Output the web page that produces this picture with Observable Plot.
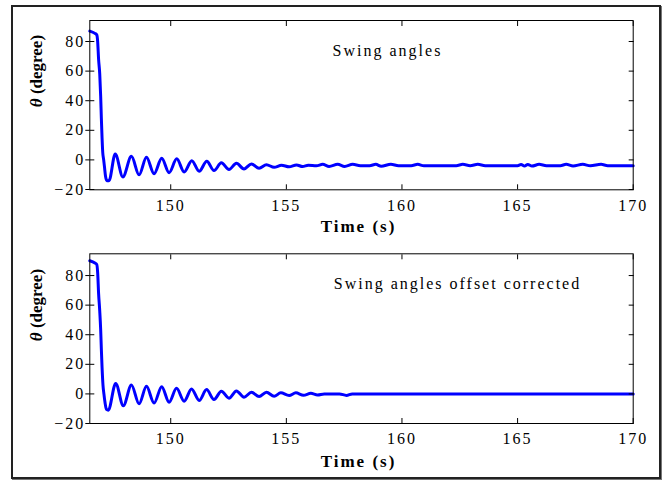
<!DOCTYPE html>
<html><head><meta charset="utf-8">
<script src="https://cdn.jsdelivr.net/npm/d3@7"></script>
<script src="https://cdn.jsdelivr.net/npm/@observablehq/plot@0.6"></script>
<style>
body{margin:0;background:#fff;}
#wrap{position:relative;width:668px;height:481px;overflow:hidden;background:#fff;}
#wrap svg{position:absolute;left:0;}
#wrap svg, #wrap svg text{font-family:"Liberation Serif","Times New Roman",serif !important;}
#border{position:absolute;left:11px;top:5px;width:650px;height:474px;border:2px solid #222;box-sizing:border-box;pointer-events:none;box-shadow:1px 1px 0 #777;z-index:2;}
</style></head><body><div id="wrap"><div id="border"></div></div>
<script>
const xTicks = [150, 155, 160, 165, 170];
const yTicks = [-20, 0, 20, 40, 60, 80];
const xLabel = "Time (s)";
const yLabel = "θ (degree)";
const panelTitles = ["Swing angles", "Swing angles offset corrected"];

const topTime = [146.50,146.72,146.80,146.84,146.88,146.93,146.97,147.00,147.03,147.06,147.10,147.13,147.18,147.24,147.33,147.60,147.93,148.30,148.63,148.95,149.28,149.61,149.93,150.26,150.58,150.91,151.23,151.56,151.87,152.19,152.52,152.84,153.17,153.49,153.82,154.14,154.47,154.79,155.12,155.44,155.70,155.95,156.30,156.57,156.85,157.22,157.52,157.87,158.20,158.60,158.87,159.10,159.52,159.85,160.40,160.68,160.95,162.35,162.63,162.95,163.28,163.60,165.00,165.15,165.30,165.44,165.62,165.93,166.25,166.85,167.10,167.40,167.82,168.15,168.61,168.90,170.00];
const topAngle = [87.0,85.5,84.5,80.0,68.0,58.0,43.0,28.0,15.0,5.0,0.0,-4.0,-11.0,-14.0,-14.0,4.0,-11.5,2.4,-10.1,1.8,-9.4,1.1,-8.6,0.7,-8.1,-0.5,-7.7,-0.9,-7.2,-2.0,-6.5,-2.3,-6.1,-2.7,-5.6,-3.2,-5.0,-3.6,-4.7,-3.4,-4.5,-3.6,-4.0,-3.0,-4.4,-3.0,-4.4,-3.0,-3.9,-3.9,-3.0,-4.3,-2.9,-3.9,-3.9,-3.0,-4.0,-3.9,-3.0,-3.9,-3.0,-3.9,-3.9,-3.1,-4.2,-3.1,-4.2,-3.0,-3.9,-3.9,-3.0,-4.1,-3.0,-4.0,-3.0,-3.9,-3.9];

const bottomTime = [146.50,146.72,146.80,146.84,146.88,146.93,146.97,147.00,147.03,147.07,147.11,147.16,147.22,147.30,147.62,147.95,148.30,148.63,148.95,149.28,149.61,149.93,150.25,150.58,150.90,151.23,151.55,151.87,152.19,152.52,152.84,153.17,153.49,153.82,154.14,154.47,154.76,155.12,155.41,155.74,156.06,156.35,156.64,157.30,157.60,157.85,170.00];
const bottomAngle = [90.0,88.5,87.5,82.0,68.0,56.0,43.5,30.0,18.0,6.0,0.0,-6.0,-10.5,-11.0,7.1,-8.0,6.0,-6.7,5.1,-6.2,4.9,-5.6,3.8,-4.9,3.3,-4.4,2.9,-3.8,1.8,-2.9,2.0,-2.2,1.1,-1.8,1.1,-1.6,0.7,-1.1,0.7,-0.9,0.4,-0.7,0.0,0.0,-1.0,0.0,0.0];

const titlePos = [[157.0, 70.5], [157.05, 71.2]];

function panel({time, angle, title, at, yDomain, height, top, marginTop, marginBottom, xPad, labelDy, yDy}) {
  const data = time.map((t, i) => ({t, v: angle[i]}));
  const svg = Plot.plot({
    width: 668, height,
    marginLeft: 89.3, marginRight: 35.3, marginTop, marginBottom,
    style: {fontSize: "16px", color: "#000", background: "transparent", letterSpacing: "2px", overflow: "visible"},
    x: {domain: [146.5, 170]},
    y: {domain: yDomain},
    marks: [
      Plot.line(data, {x: "t", y: "v", stroke: "#0000ff", strokeWidth: 3, curve: "monotone-x"}),
      Plot.frame({stroke: "#000", strokeWidth: 1}),
      Plot.axisX({anchor: "bottom", ticks: xTicks, tickSize: -5, tickPadding: xPad, label: null}),
      Plot.axisX({anchor: "top", ticks: xTicks, tickSize: -5, tickFormat: () => "", label: null}),
      Plot.axisY({anchor: "left", ticks: yTicks, tickSize: -5, tickPadding: 9.6, label: null}),
      Plot.axisY({anchor: "left", ticks: yTicks, tickSize: 4, tickFormat: () => "", label: null}),
      Plot.axisY({anchor: "right", ticks: yTicks, tickSize: -5, tickFormat: () => "", label: null}),
      Plot.text([title], {x: at[0], y: at[1], text: d => d, textAnchor: "start", lineAnchor: "bottom", fontSize: 16}),
      Plot.text([xLabel], {frameAnchor: "bottom", text: d => d, lineAnchor: "bottom", dy: labelDy, dx: -3, fontWeight: "bold", fontSize: 17}),
      Plot.text([yLabel], {frameAnchor: "left", text: d => d, rotate: -90, lineAnchor: "middle", dx: -53.3, dy: yDy, fontWeight: "bold", fontSize: 17})
    ]
  });
  d3.select(svg).style("top", top + "px");
  d3.select(svg).selectAll("text").filter(function () { return this.textContent === yLabel; }).each(function () {
    const el = d3.select(this);
    el.text(null).style("letter-spacing", "0px");
    el.append("tspan").attr("font-style", "italic").text(yLabel.slice(0, 1));
    el.append("tspan").text(yLabel.slice(1));
  });
  return svg;
}

const wrap = document.getElementById("wrap");
wrap.appendChild(panel({time: topTime, angle: topAngle, title: panelTitles[0], at: titlePos[0], yDomain: [-20.2, 94.2], height: 240, top: 0, marginTop: 20, marginBottom: 50.7, xPad: 15, labelDy: 42.4, yDy: 2}));
wrap.appendChild(panel({time: bottomTime, angle: bottomAngle, title: panelTitles[1], at: titlePos[1], yDomain: [-20, 94.7], height: 241, top: 240, marginTop: 13.3, marginBottom: 58, xPad: 13.9, labelDy: 43, yDy: 2.5}));
</script></body></html>
